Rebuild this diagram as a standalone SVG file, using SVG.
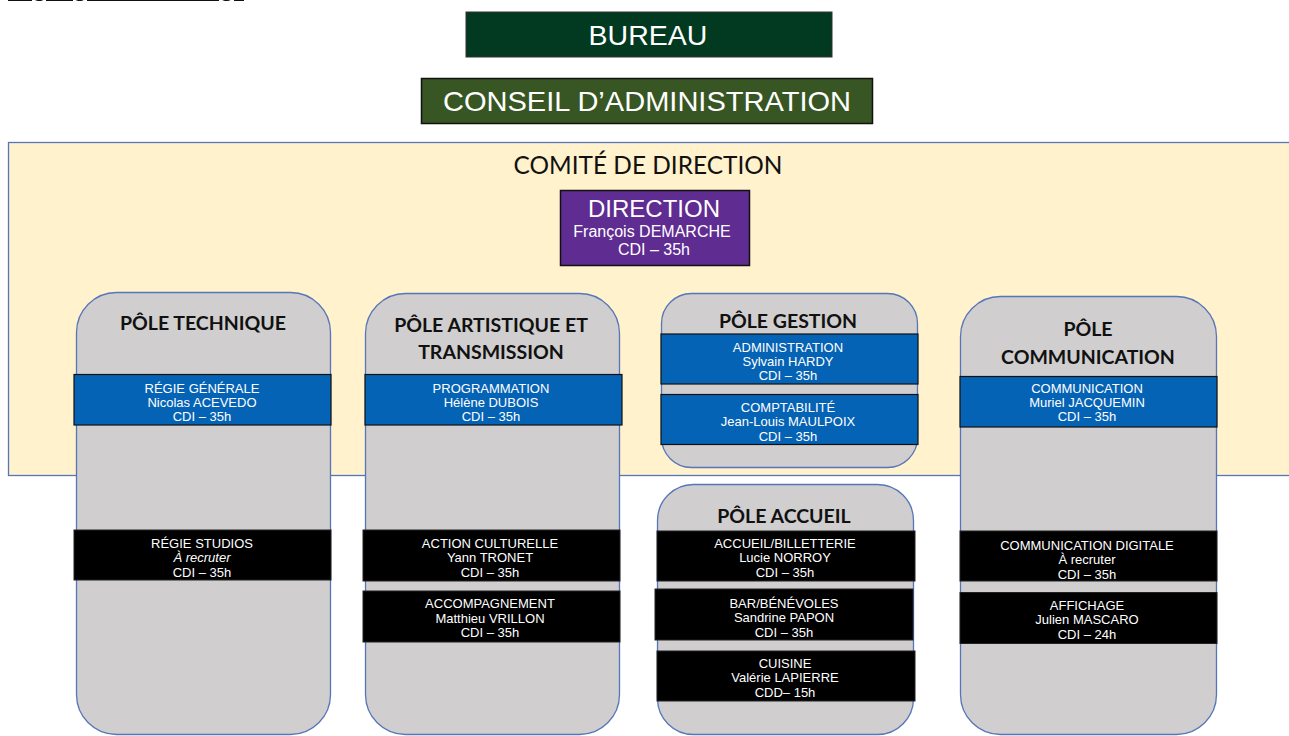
<svg xmlns="http://www.w3.org/2000/svg" width="1289" height="736" viewBox="0 0 1289 736">
<style>
.pole{fill:#d0cece;stroke:#5576b8;stroke-width:1.3}
.blue{fill:#0563b5;stroke:#111;stroke-width:1.2}
.blk{fill:#000;stroke:#222;stroke-width:1}
.bt{font-family:"Liberation Sans",Arial,sans-serif;font-size:13px;fill:#fff;text-anchor:middle}
.pt{font-family:Lato,"Open Sans",sans-serif;font-weight:bold;font-size:19.5px;fill:#111;text-anchor:middle}
.hd{font-family:"Liberation Sans",Arial,sans-serif;fill:#fff;text-anchor:middle}
</style>
<rect width="1289" height="736" fill="#fff"/>
<text x="8" y="-2" font-family="Lato,'Open Sans',sans-serif" font-size="20" text-decoration="underline" fill="#111" textLength="236" lengthAdjust="spacingAndGlyphs">Organigramme envisagé</text>

<g id="bureau">
<rect x="466" y="12" width="366" height="45" fill="#013a20" stroke="#333" stroke-width="1"/>
<text class="hd" x="648" y="45" font-size="28.5">BUREAU</text>
</g>
<g id="conseil">
<rect x="421.5" y="78.5" width="451" height="45" fill="#375623" stroke="#111" stroke-width="1.5"/>
<text class="hd" x="647" y="111" font-size="27.5" textLength="408" lengthAdjust="spacingAndGlyphs">CONSEIL D’ADMINISTRATION</text>
</g>

<g id="comite">
<rect x="8.5" y="142.5" width="1290" height="333" fill="#fff2cc" stroke="#5576b8" stroke-width="1.3"/>
<text x="648" y="174" font-family="Lato,'Open Sans',sans-serif" font-size="25" fill="#111" text-anchor="middle" textLength="269" lengthAdjust="spacingAndGlyphs">COMITÉ DE DIRECTION</text>
</g>

<g id="direction">
<rect x="560.5" y="190.5" width="189" height="75" fill="#5f2c91" stroke="#111" stroke-width="1.5"/>
<text class="hd" x="654" y="217" font-size="24">DIRECTION</text>
<text class="hd" x="652" y="237" font-size="16">François DEMARCHE</text>
<text class="hd" x="654" y="255" font-size="16">CDI – 35h</text>
</g>

<g id="pole-technique">
<rect class="pole" x="76.5" y="292.5" width="254" height="442" rx="40"/>
<text class="pt" x="203" y="330">PÔLE TECHNIQUE</text>
<rect class="blue" x="74" y="374.5" width="257" height="50.5"/>
<text class="bt" x="202" y="393">RÉGIE GÉNÉRALE</text>
<text class="bt" x="202" y="407">Nicolas ACEVEDO</text>
<text class="bt" x="202" y="421">CDI – 35h</text>
<rect class="blk" x="74" y="530" width="257" height="50"/>
<text class="bt" x="202" y="548">RÉGIE STUDIOS</text>
<text class="bt" x="202" y="562" font-style="italic">À recruter</text>
<text class="bt" x="202" y="577">CDI – 35h</text>
</g>

<g id="pole-artistique">
<rect class="pole" x="365.5" y="293.5" width="254" height="441" rx="40"/>
<text class="pt" x="491" y="332">PÔLE ARTISTIQUE ET</text>
<text class="pt" x="491" y="359">TRANSMISSION</text>
<rect class="blue" x="365" y="374.5" width="257" height="50.5"/>
<text class="bt" x="491" y="393">PROGRAMMATION</text>
<text class="bt" x="491" y="407">Hélène DUBOIS</text>
<text class="bt" x="491" y="421">CDI – 35h</text>
<rect class="blk" x="363" y="530" width="257" height="51"/>
<text class="bt" x="490" y="548">ACTION CULTURELLE</text>
<text class="bt" x="490" y="562">Yann TRONET</text>
<text class="bt" x="490" y="577">CDI – 35h</text>
<rect class="blk" x="363" y="591" width="257" height="51"/>
<text class="bt" x="490" y="608">ACCOMPAGNEMENT</text>
<text class="bt" x="490" y="623">Matthieu VRILLON</text>
<text class="bt" x="490" y="637">CDI – 35h</text>
</g>

<g id="pole-gestion">
<rect class="pole" x="661.5" y="293.5" width="256" height="174" rx="30"/>
<text class="pt" x="788" y="328">PÔLE GESTION</text>
<rect class="blue" x="661" y="334" width="257" height="50"/>
<text class="bt" x="788" y="352">ADMINISTRATION</text>
<text class="bt" x="788" y="366">Sylvain HARDY</text>
<text class="bt" x="788" y="380">CDI – 35h</text>
<rect class="blue" x="661" y="394.5" width="257" height="50"/>
<text class="bt" x="788" y="412">COMPTABILITÉ</text>
<text class="bt" x="788" y="426">Jean-Louis MAULPOIX</text>
<text class="bt" x="788" y="441">CDI – 35h</text>
</g>

<g id="pole-accueil">
<rect class="pole" x="657.5" y="484.5" width="256" height="250" rx="36"/>
<text class="pt" x="784" y="523">PÔLE ACCUEIL</text>
<rect class="blk" x="657" y="531" width="258" height="50"/>
<text class="bt" x="785" y="548">ACCUEIL/BILLETTERIE</text>
<text class="bt" x="785" y="562">Lucie NORROY</text>
<text class="bt" x="785" y="577">CDI – 35h</text>
<rect class="blk" x="655" y="589" width="258" height="51"/>
<text class="bt" x="784" y="608">BAR/BÉNÉVOLES</text>
<text class="bt" x="784" y="622">Sandrine PAPON</text>
<text class="bt" x="784" y="637">CDI – 35h</text>
<rect class="blk" x="657" y="651" width="258" height="50"/>
<text class="bt" x="785" y="668">CUISINE</text>
<text class="bt" x="785" y="682">Valérie LAPIERRE</text>
<text class="bt" x="785" y="697">CDD– 15h</text>
</g>

<g id="pole-communication">
<rect class="pole" x="960.5" y="296.5" width="256" height="438" rx="40"/>
<text class="pt" x="1088" y="336">PÔLE</text>
<text class="pt" x="1088" y="364">COMMUNICATION</text>
<rect class="blue" x="960" y="376.5" width="257" height="50.5"/>
<text class="bt" x="1087" y="393">COMMUNICATION</text>
<text class="bt" x="1087" y="407">Muriel JACQUEMIN</text>
<text class="bt" x="1087" y="421">CDI – 35h</text>
<rect class="blk" x="960" y="531" width="257" height="50"/>
<text class="bt" x="1087" y="550">COMMUNICATION DIGITALE</text>
<text class="bt" x="1087" y="564">À recruter</text>
<text class="bt" x="1087" y="579">CDI – 35h</text>
<rect class="blk" x="960" y="592.5" width="257" height="51"/>
<text class="bt" x="1087" y="610">AFFICHAGE</text>
<text class="bt" x="1087" y="624">Julien MASCARO</text>
<text class="bt" x="1087" y="639">CDI – 24h</text>
</g>
<g id="connectors"></g>
</svg>
